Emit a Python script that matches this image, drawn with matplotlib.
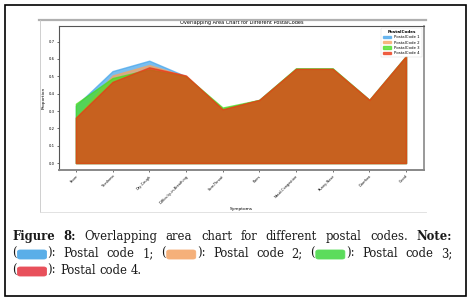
import numpy as np
import matplotlib
matplotlib.use("Agg")
import matplotlib.pyplot as plt
from matplotlib.patches import Rectangle, FancyBboxPatch

symptoms = ["Fever", "Tiredness", "Dry-Cough", "Difficulty-in-Breathing", "Sore-Throat",
            "Pains", "Nasal-Congestion", "Runny-Nose", "Diarrhea", "Covid"]
code1 = [0.33, 0.530, 0.590, 0.500, 0.310, 0.364, 0.543, 0.543, 0.364, 0.616]
code2 = [0.262, 0.505, 0.565, 0.500, 0.310, 0.364, 0.543, 0.543, 0.364, 0.616]
code3 = [0.342, 0.490, 0.540, 0.500, 0.320, 0.364, 0.546, 0.546, 0.364, 0.616]
code4 = [0.262, 0.468, 0.552, 0.505, 0.310, 0.364, 0.543, 0.543, 0.364, 0.616]
series_names = ["PostalCode 1", "PostalCode 2", "PostalCode 3", "PostalCode 4"]
series_colors = ["#46a5eb", "#f5a564", "#46dc1e", "#eb3714"]
caption_colors = ["#5aaee8", "#f5b07a", "#5cdc5c", "#e8505b"]

W, H = 467, 298
fig = plt.figure(figsize=(W / 100, H / 100), dpi=100)

def fx(px):
    return px / W

def fy(py):
    return 1 - py / H

# outer frame of the figure panel
fig.patches.append(Rectangle((fx(4.5), fy(295.5)), fx(461), (291) / H, transform=fig.transFigure,
                             fill=False, edgecolor="black", lw=1.2))
# gray frame of the embedded chart image
fig.add_artist(plt.Line2D([fx(39), fx(426)], [fy(19.5), fy(19.5)], color="#b0b0b0", lw=1.6))
fig.add_artist(plt.Line2D([fx(39.5), fx(39.5)], [fy(19.5), fy(212)], color="#c8c8c8", lw=0.6))
fig.add_artist(plt.Line2D([fx(39.5), fx(426)], [fy(212), fy(212)], color="#dddddd", lw=0.6))

ax = fig.add_axes([fx(59), fy(170), fx(424) - fx(59), fy(26) - fy(170)])
x = np.arange(len(symptoms))
for vals, name, col in zip([code1, code2, code3, code4], series_names, series_colors):
    ax.fill_between(x, 0, vals, color=col, alpha=0.72, lw=1.0, label=name)
ax.set_xlim(-0.46, 9.49)
ax.set_ylim(-0.04, 0.79)
ax.set_yticks(np.arange(0, 0.71, 0.1))
ax.set_yticklabels(["%.1f" % v for v in np.arange(0, 0.71, 0.1)], fontsize=2.7)
ax.set_xticks(x)
ax.set_xticklabels(symptoms, rotation=45, ha="right", fontsize=2.5, rotation_mode="anchor")
ax.tick_params(length=1.5, width=0.4, pad=1.5)
ax.set_xlabel("Symptoms", fontsize=3.2, labelpad=2)
ax.set_ylabel("Proportion", fontsize=3.2, labelpad=2)
ax.set_title("Overlapping Area Chart for Different PostalCodes", fontsize=3.6, pad=1.5)
for s in ax.spines.values():
    s.set_color("#555555")
    s.set_linewidth(0.8)
ax.spines["bottom"].set_linewidth(1.4)
ax.spines["bottom"].set_color("#888888")
ax.spines["right"].set_linewidth(1.2)
ax.spines["right"].set_color("#888888")
leg = ax.legend(title="PostalCodes", loc="upper right", fontsize=2.8, title_fontsize=3,
                frameon=True, handlelength=2.2, handleheight=0.6, borderpad=0.5, labelspacing=0.35)
leg.get_title().set_fontweight("bold")
leg.get_frame().set_linewidth(0.3)

# caption
lines = [
    [[("t", "Figure", "bold")], [("t", "8:", "bold")], [("t", "Overlapping", "normal")],
     [("t", "area", "normal")], [("t", "chart", "normal")], [("t", "for", "normal")],
     [("t", "different", "normal")], [("t", "postal", "normal")], [("t", "codes.", "normal")],
     [("t", "Note:", "bold")]],
    [[("t", "(", "normal"), ("s", 0), ("t", "):", "normal")], [("t", "Postal", "normal")],
     [("t", "code", "normal")], [("t", "1;", "normal")],
     [("t", "(", "normal"), ("s", 1), ("t", "):", "normal")], [("t", "Postal", "normal")],
     [("t", "code", "normal")], [("t", "2;", "normal")],
     [("t", "(", "normal"), ("s", 2), ("t", "):", "normal")], [("t", "Postal", "normal")],
     [("t", "code", "normal")], [("t", "3;", "normal")]],
    [[("t", "(", "normal"), ("s", 3), ("t", "):", "normal")], [("t", "Postal", "normal")],
     [("t", "code", "normal")], [("t", "4.", "normal")]],
]
baselines = [240, 257, 274]
left, right = 12, 452
sw_w, sw_h = 31, 9
cap_font = dict(family="DejaVu Serif", fontsize=8.4, color="#1a1a1a")
renderer = fig.canvas.get_renderer()

def place_word(word, x0, base, draw=True):
    cx = x0
    for part in word:
        if part[0] == "t":
            t = fig.text(fx(cx), fy(base), part[1], fontweight=part[2], va="baseline", ha="left",
                         **cap_font)
            w = t.get_window_extent(renderer).width
            if not draw:
                t.remove()
            cx += w
        else:
            if draw:
                col = caption_colors[part[1]]
                p = FancyBboxPatch((fx(cx + 1), fy(base + 2)), fx(sw_w - 2), sw_h / H,
                                   boxstyle="round,pad=0,rounding_size=0.006",
                                   transform=fig.transFigure, facecolor=col,
                                   edgecolor=col, lw=0.6)
                fig.patches.append(p)
            cx += sw_w
    return cx - x0

space_t = fig.text(0, 0, "a a", **cap_font)
w_aa = space_t.get_window_extent(renderer).width
space_t.remove()
a_t = fig.text(0, 0, "aa", **cap_font)
space_w = w_aa - a_t.get_window_extent(renderer).width
a_t.remove()

for i, (words, base) in enumerate(zip(lines, baselines)):
    widths = [place_word(wd, 0, base, draw=False) for wd in words]
    if i < len(lines) - 1:
        gap = (right - left - sum(widths)) / (len(words) - 1)
    else:
        gap = space_w
    cx = left
    for wd, w in zip(words, widths):
        place_word(wd, cx, base)
        cx += w + gap

fig.savefig("out.png", dpi=100)
